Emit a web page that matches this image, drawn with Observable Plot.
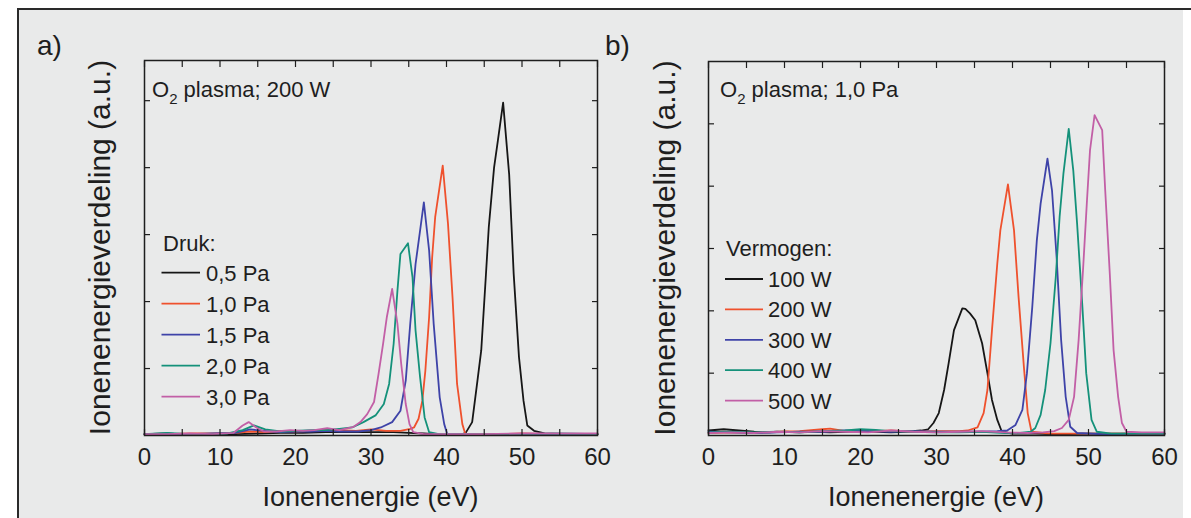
<!DOCTYPE html>
<html>
<head>
<meta charset="utf-8">
<script src="https://cdn.jsdelivr.net/npm/d3@7"></script>
<script src="https://cdn.jsdelivr.net/npm/@observablehq/plot@0.6"></script>
<style>
  html, body { margin: 0; padding: 0; background: #ffffff; }
  #page { position: relative; width: 1191px; height: 518px; overflow: hidden;
          font-family: "Liberation Sans", Arial, sans-serif; }
  #bg { position: absolute; left: 18px; top: 9px; width: 1165px; height: 509px; background: #e9eaea; }
  #topline { position: absolute; left: 17px; top: 8px; width: 1174px; height: 1.5px; background: #2a2a2a; }
  #leftline { position: absolute; left: 17px; top: 8px; width: 1.5px; height: 510px; background: #2a2a2a; }
  .panel { position: absolute; }
  #overlay { position: absolute; left: 0; top: 0; }
</style>
</head>
<body>
<div id="page">
  <div id="bg"></div>
  <div id="topline"></div>
  <div id="leftline"></div>
  <div id="panelA" class="panel" style="left:120px;top:45px;"></div>
  <div id="panelB" class="panel" style="left:690px;top:45px;"></div>
</div>
<script>
// ---------- tick values / labels ----------
const energyTicks = [0, 10, 20, 30, 40, 50, 60];
const energyMinorTicks = [5, 15, 25, 35, 45, 55];
const yTicksA = [1, 2, 3, 4, 5];
const yTicksB = [1, 2, 3, 4, 5];

const seriesA = ["0,5 Pa", "1,0 Pa", "1,5 Pa", "2,0 Pa", "3,0 Pa"];
const seriesB = ["100 W", "200 W", "300 W", "400 W", "500 W"];
const seriesColors = ["#161616", "#ef512d", "#3e43a8", "#14917a", "#c25fa6"];

// ---------- panel a: O2 plasma, 200 W, varying pressure ----------
const energyA05 = [0, 3, 6, 9, 12, 15, 18, 21, 24, 27, 30, 33, 35, 37, 40, 42, 42.6, 43.4, 44.1, 44.6, 45.2, 45.6, 46.3, 46.8, 47.5, 48.3, 48.9, 49.6, 50.2, 50.7, 51.6, 53, 56, 60];
const distA05   = [0.02, 0.03, 0.01, 0.02, 0.02, 0.03, 0.04, 0.04, 0.05, 0.05, 0.05, 0.05, 0.04, 0.03, 0.01, 0.01, 0.05, 0.2, 0.82, 1.27, 2.36, 3.11, 4.0, 4.4, 4.97, 3.9, 2.41, 1.17, 0.52, 0.15, 0.07, 0.03, 0.02, 0.02];

const energyA10 = [0, 3, 6, 9, 12, 14, 16, 18, 20, 22, 24, 26, 28, 30, 32, 33.9, 35.2, 35.7, 36.3, 36.8, 37.2, 37.7, 38.1, 38.5, 39.5, 40.2, 40.8, 41.4, 42.1, 42.5, 44, 47, 50, 54, 57, 60];
const distA10   = [0.02, 0.02, 0.03, 0.03, 0.04, 0.06, 0.05, 0.07, 0.06, 0.07, 0.08, 0.08, 0.07, 0.09, 0.07, 0.07, 0.1, 0.12, 0.25, 0.52, 0.97, 1.77, 2.66, 3.26, 4.03, 3.16, 2.06, 0.77, 0.17, 0.02, 0.02, 0.02, 0.03, 0.02, 0.02, 0.02];

const energyA15 = [0, 3, 6, 9, 12, 14, 16, 18, 20, 22, 24, 26, 28.3, 30, 31.3, 32.8, 33.9, 34.6, 35.2, 35.9, 36.5, 37.0, 37.7, 38.3, 39.1, 39.7, 40.1, 42, 45, 50, 55, 60];
const distA15   = [0.02, 0.02, 0.02, 0.03, 0.04, 0.09, 0.07, 0.05, 0.06, 0.06, 0.07, 0.06, 0.06, 0.08, 0.12, 0.2, 0.37, 0.82, 1.67, 2.56, 3.06, 3.48, 2.76, 1.67, 0.57, 0.17, 0.02, 0.02, 0.01, 0.02, 0.02, 0.02];

const energyA20 = [0, 3, 6, 9, 11, 13, 14.5, 16, 18, 20, 22, 24, 25.8, 27.5, 29.0, 30.6, 31.7, 32.4, 33.0, 33.5, 33.9, 34.9, 35.5, 35.9, 36.5, 37.1, 37.7, 39, 42, 46, 50, 55, 60];
const distA20   = [0.02, 0.04, 0.02, 0.02, 0.03, 0.08, 0.15, 0.09, 0.06, 0.07, 0.08, 0.08, 0.1, 0.12, 0.2, 0.3, 0.47, 0.77, 1.37, 2.16, 2.71, 2.87, 2.36, 1.57, 0.87, 0.27, 0.05, 0.02, 0.02, 0.02, 0.02, 0.03, 0.02];

const energyA30 = [0, 3, 6, 9, 11.8, 13.0, 13.8, 14.8, 15.8, 17.5, 19.3, 21, 22.5, 24.2, 25.8, 27.7, 28.6, 29.5, 30.4, 31.0, 31.6, 32.1, 32.8, 33.5, 34.0, 34.6, 35.1, 35.6, 37, 40, 45, 50, 55, 60];
const distA30   = [0.02, 0.02, 0.03, 0.02, 0.04, 0.15, 0.2, 0.12, 0.06, 0.06, 0.08, 0.07, 0.08, 0.11, 0.08, 0.13, 0.2, 0.32, 0.5, 0.92, 1.37, 1.77, 2.19, 1.67, 1.07, 0.47, 0.17, 0.05, 0.02, 0.02, 0.02, 0.03, 0.03, 0.03];

// ---------- panel b: O2 plasma, 1,0 Pa, varying power ----------
const energyB100 = [0, 2, 4, 6, 8, 10, 12, 14, 16, 18, 20, 22, 24, 26, 28.0, 28.9, 29.6, 30.3, 31.0, 31.6, 32.3, 33.4, 33.8, 34.4, 35.1, 36.0, 36.7, 37.3, 38.0, 38.6, 40, 43, 46, 50, 55, 60];
const distB100   = [0.08, 0.1, 0.08, 0.06, 0.05, 0.06, 0.05, 0.06, 0.05, 0.06, 0.07, 0.06, 0.05, 0.06, 0.08, 0.1, 0.2, 0.36, 0.73, 1.16, 1.69, 2.04, 2.03, 1.96, 1.85, 1.48, 1.0, 0.57, 0.25, 0.06, 0.03, 0.03, 0.02, 0.03, 0.03, 0.03];

const energyB200 = [0, 3, 6, 9, 12, 15, 16, 18, 21, 24, 27, 30, 33, 34.1, 35.4, 36.2, 36.7, 37.3, 38.0, 38.4, 39.4, 40.2, 40.8, 41.5, 42.0, 42.5, 45, 50, 55, 60];
const distB200   = [0.04, 0.05, 0.04, 0.06, 0.07, 0.1, 0.11, 0.07, 0.06, 0.08, 0.06, 0.07, 0.07, 0.08, 0.13, 0.36, 0.73, 1.69, 2.76, 3.29, 4.03, 3.29, 2.22, 1.1, 0.36, 0.06, 0.03, 0.03, 0.03, 0.03];

const energyB300 = [0, 3, 6, 9, 12, 15, 18, 21, 24, 27, 30, 33, 36, 38, 39.3, 40.4, 41.3, 41.9, 42.6, 43.2, 43.7, 44.6, 45.2, 45.8, 46.4, 47.0, 47.6, 48.5, 52, 56, 60];
const distB300   = [0.06, 0.05, 0.04, 0.05, 0.06, 0.06, 0.08, 0.07, 0.06, 0.07, 0.06, 0.06, 0.06, 0.07, 0.08, 0.17, 0.41, 1.0, 2.06, 3.13, 3.72, 4.44, 3.93, 2.87, 1.53, 0.62, 0.14, 0.04, 0.02, 0.03, 0.03];

const energyB400 = [0, 3, 6, 9, 12, 15, 18, 20, 22, 24, 27, 30, 33, 36, 39, 41, 42.4, 43.0, 43.7, 44.3, 45.0, 45.7, 46.2, 46.7, 47.4, 48.0, 48.5, 49.2, 49.7, 50.4, 51.1, 53, 56, 60];
const distB400   = [0.05, 0.06, 0.05, 0.06, 0.05, 0.07, 0.08, 0.1, 0.09, 0.07, 0.06, 0.05, 0.05, 0.06, 0.04, 0.04, 0.06, 0.12, 0.33, 0.73, 1.48, 2.55, 3.51, 4.2, 4.92, 4.25, 3.4, 2.06, 1.0, 0.25, 0.06, 0.03, 0.03, 0.03];

const energyB500 = [0, 3, 6, 9, 12, 15, 18, 21, 24, 27, 30, 33, 36, 39, 42, 44, 45.5, 46.5, 47.4, 48.1, 48.7, 49.3, 49.8, 50.2, 50.8, 51.8, 52.2, 52.8, 53.3, 53.9, 54.4, 55.0, 57, 60];
const distB500   = [0.04, 0.05, 0.04, 0.06, 0.05, 0.07, 0.06, 0.05, 0.08, 0.06, 0.05, 0.06, 0.07, 0.05, 0.04, 0.05, 0.07, 0.12, 0.25, 0.62, 1.53, 2.7, 3.77, 4.58, 5.14, 4.9, 3.93, 2.6, 1.37, 0.62, 0.2, 0.06, 0.05, 0.05];

// ---------- build tables ----------
function rows(label, xs, ys) { return xs.map((x, i) => ({series: label, energy: x, value: ys[i]})); }
const dataA = [
  rows(seriesA[0], energyA05, distA05),
  rows(seriesA[1], energyA10, distA10),
  rows(seriesA[2], energyA15, distA15),
  rows(seriesA[3], energyA20, distA20),
  rows(seriesA[4], energyA30, distA30)
].flat();
const dataB = [
  rows(seriesB[0], energyB100, distB100),
  rows(seriesB[1], energyB200, distB200),
  rows(seriesB[2], energyB300, distB300),
  rows(seriesB[3], energyB400, distB400),
  rows(seriesB[4], energyB500, distB500)
].flat();

const FONT = '"Liberation Sans", Arial, sans-serif';
const INK = "#1e1e1e";

function panel({data, series, yMax, yTicks, width, height, ml, mt, mr, mb}) {
  return Plot.plot({
    width, height,
    marginLeft: ml, marginTop: mt, marginRight: mr, marginBottom: mb,
    style: {background: "transparent", color: INK, fontFamily: FONT, fontSize: "24px", overflow: "visible"},
    x: {domain: [0, 60], label: null},
    y: {domain: [0, yMax], label: null},
    color: {domain: series, range: seriesColors},
    marks: [
      Plot.line(data, {x: "energy", y: "value", z: "series", stroke: "series", strokeWidth: 1.8, strokeLinejoin: "round"}),
      Plot.axisX({anchor: "bottom", ticks: energyTicks, tickSize: -6, tickPadding: 18, fontSize: 24, label: null, strokeWidth: 1.2}),
      Plot.axisX({anchor: "bottom", ticks: energyMinorTicks, tickSize: -6, tickFormat: () => "", label: null, strokeWidth: 1.2}),
      Plot.axisX({anchor: "top", ticks: energyTicks.concat(energyMinorTicks), tickSize: -6, tickFormat: () => "", label: null, strokeWidth: 1.2}),
      Plot.axisY({anchor: "left", ticks: yTicks, tickSize: -6, tickFormat: () => "", label: null, strokeWidth: 1.2}),
      Plot.axisY({anchor: "right", ticks: yTicks, tickSize: -6, tickFormat: () => "", label: null, strokeWidth: 1.2}),
      Plot.frame({stroke: INK, strokeWidth: 1.5})
    ]
  });
}

document.getElementById("panelA").appendChild(panel({
  data: dataA, series: seriesA, yMax: 5.6, yTicks: yTicksA,
  width: 500, height: 440, ml: 24, mt: 15, mr: 23, mb: 50
}));
document.getElementById("panelB").appendChild(panel({
  data: dataB, series: seriesB, yMax: 6, yTicks: yTicksB,
  width: 500, height: 440, ml: 18, mt: 16, mr: 26, mb: 50
}));

// ---------- overlay texts: panel letters, axis titles, annotations, legends ----------
const svg = d3.select("#page").append("svg")
  .attr("id", "overlay").attr("width", 1191).attr("height", 518)
  .style("font-family", FONT).attr("fill", INK);

function label(x, y, txt, size, anchor = "start") {
  return svg.append("text").attr("x", x).attr("y", y).attr("font-size", size)
    .attr("text-anchor", anchor).text(txt);
}
label(37, 55, "a)", 28);
label(605, 55, "b)", 28);

svg.append("text").attr("transform", "translate(110,247.5) rotate(-90)")
  .attr("font-size", 30).attr("text-anchor", "middle").text("Ionenenergieverdeling (a.u.)");
svg.append("text").attr("transform", "translate(675,248) rotate(-90)")
  .attr("font-size", 30).attr("text-anchor", "middle").text("Ionenenergieverdeling (a.u.)");

label(370.5, 506, "Ionenenergie (eV)", 27, "middle");
label(936, 506, "Ionenenergie (eV)", 27, "middle");

function plasmaTitle(x, y, rest) {
  const t = svg.append("text").attr("x", x).attr("y", y).attr("font-size", 22);
  t.append("tspan").text("O");
  t.append("tspan").attr("font-size", 15).attr("dy", 7).text("2");
  t.append("tspan").attr("dy", -7).text(" " + rest);
}
plasmaTitle(152, 97, "plasma; 200 W");
plasmaTitle(720, 97, "plasma; 1,0 Pa");

function legend(x0, headY, title, names, rowY0, rowStep, lineX1, lineX2, textX) {
  label(x0, headY, title, 22);
  names.forEach((n, i) => {
    const y = rowY0 + i * rowStep;
    svg.append("line").attr("x1", lineX1).attr("x2", lineX2).attr("y1", y).attr("y2", y)
      .attr("stroke", seriesColors[i]).attr("stroke-width", 1.8);
    label(textX, y + 8, n, 22);
  });
}
legend(163, 251, "Druk:", seriesA, 272.7, 31, 161.5, 200, 206);
legend(726, 256, "Vermogen:", seriesB, 279, 30.4, 725, 763, 768);
</script>
</body>
</html>
